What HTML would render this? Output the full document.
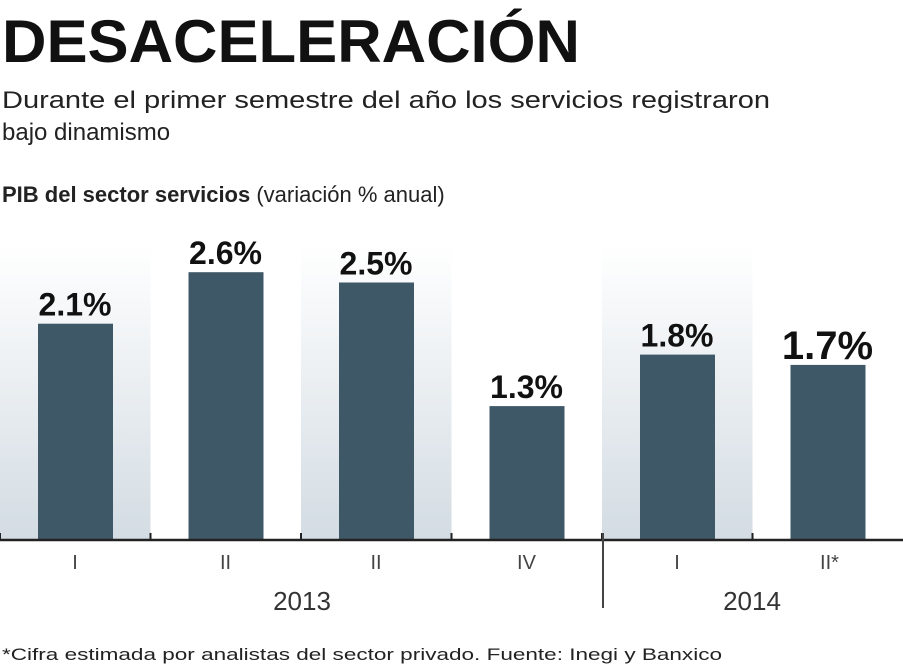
<!DOCTYPE html>
<html><head><meta charset="utf-8"><style>
body{margin:0;width:903px;height:666px;background:#fff;overflow:hidden;font-family:"Liberation Sans",sans-serif;}
</style></head><body>
<svg width="903" height="666" xmlns="http://www.w3.org/2000/svg">
<defs><linearGradient id="g" x1="0" y1="0" x2="0" y2="1"><stop offset="0" stop-color="#fff"/><stop offset="1" stop-color="#d3dce3"/></linearGradient></defs>
<text x="2" y="62" font-size="60" font-weight="bold" fill="#111" textLength="578" lengthAdjust="spacingAndGlyphs">DESACELERACIÓN</text>
<text x="2" y="108" font-size="24" fill="#222" textLength="768" lengthAdjust="spacingAndGlyphs">Durante el primer semestre del año los servicios registraron</text>
<text x="2" y="140" font-size="24" fill="#222">bajo dinamismo</text>
<text x="2" y="202" font-size="22" fill="#222"><tspan font-weight="bold">PIB del sector servicios</tspan> (variación % anual)</text>
<g id="bg"></g><g id="bars"></g><g id="labels"></g>
<line x1="0" y1="540" x2="903" y2="540" stroke="#222" stroke-width="2.5"/>
<line x1="603" y1="533" x2="603" y2="608" stroke="#444" stroke-width="2"/>
<text x="302" y="610" font-size="26" fill="#333" text-anchor="middle">2013</text>
<text x="752" y="610" font-size="26" fill="#333" text-anchor="middle">2014</text>
<text x="2" y="660" font-size="17" fill="#222" textLength="720" lengthAdjust="spacingAndGlyphs">*Cifra estimada por analistas del sector privado. Fuente: Inegi y Banxico</text>
</svg>
<script>
const categories=["I","II","II","IV","I","II*"];
const values=[2.1,2.6,2.5,1.3,1.8,1.7];
const valueLabels=["2.1%","2.6%","2.5%","1.3%","1.8%","1.7%"];
const NS="http://www.w3.org/2000/svg";
const base=540, scale=103, slot=150.5;
const xPos=i=>i*slot;
const yPos=v=>base-v*scale;
function mk(t,a,p){const e=document.createElementNS(NS,t);for(const k in a)e.setAttribute(k,a[k]);document.getElementById(p).appendChild(e);return e;}
categories.forEach((c,i)=>{
 const x0=xPos(i);
 if(i%2===0){const r=mk('rect',{x:x0,y:245,width:slot,height:base-245,fill:'url(#g)'},'bg');
 
 }
 const tk=mk('line',{x1:x0,y1:533,x2:x0,y2:540,stroke:'#222','stroke-width':2},'bg');
 
 
 const b=mk('rect',{x:x0+38,y:yPos(values[i]),width:75,height:values[i]*scale,fill:'#3f5867'},'bars');
 
 
 const big=i===5;
 const t=mk('text',{x:x0+75,y:yPos(values[i])-(big?6:8),'font-size':big?40:32,'font-weight':'bold',fill:'#111','text-anchor':'middle'},'labels');
 t.textContent=valueLabels[i];
 
 
 const cl=mk('text',{x:x0+75+(i===5?2:0),y:569,'font-size':20,fill:'#444','text-anchor':'middle'},'labels');
 cl.textContent=c;
 
 
});
</script>
</body></html>
